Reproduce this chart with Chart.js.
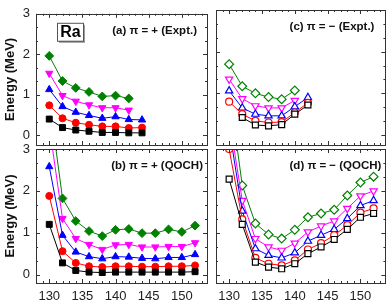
<!DOCTYPE html>
<html>
<head>
<meta charset="utf-8">
<script src="https://cdn.jsdelivr.net/npm/chart.js@4.4.1/dist/chart.umd.min.js"></script>
<style>
  body { margin: 0; background: #fff; }
  #wrap { position: relative; width: 391px; height: 307px; }
  #wrap canvas { position: absolute; left: 0; top: 0; }
</style>
</head>
<body>
<div id="wrap">
  <canvas id="pa" width="391" height="307"></canvas>
  <canvas id="pb" width="391" height="307"></canvas>
  <canvas id="pc" width="391" height="307"></canvas>
  <canvas id="pd" width="391" height="307"></canvas>
</div>
<script>
// neutron numbers
const xsExpt = [130, 132, 134, 136, 138, 140, 142, 144];
const xsQoch = [130, 132, 134, 136, 138, 140, 142, 144, 146, 148, 150, 152];
const xTicks = [130, 135, 140, 145, 150];
const yTicks = [0, 1, 2, 3];

// (a) positive parity, experiment: 2+, 4+, 6+, 8+, 10+
const a2 = [0.40, 0.19, 0.13, 0.10, 0.07, 0.07, 0.06, 0.06];
const a4 = [0.74, 0.42, 0.31, 0.26, 0.22, 0.22, 0.18, 0.19];
const a6 = [1.13, 0.71, 0.57, 0.49, 0.42, 0.46, 0.39, 0.38];
const a8 = [1.53, 0.98, 0.84, 0.75, 0.68, 0.68, 0.62];
const a10 = [1.96, 1.34, 1.17, 1.07, 0.96, 0.98, 0.91];

// (c) negative parity, experiment
const c1 = [null, 0.42, 0.24, 0.22, 0.25, 0.50, 0.72];
const c3 = [0.80, 0.50, 0.34, 0.30, 0.31, 0.54, 0.77];
const c5 = [1.06, 0.65, 0.50, 0.46, 0.46, 0.68, 0.90];
const c7 = [1.34, 0.87, 0.70, 0.65, 0.65, 0.83];
const c9 = [1.70, 1.17, 1.00, 0.91, 0.86, 1.07];

// (b) positive parity, QOCH
const b2 = [1.20, 0.28, 0.10, 0.06, 0.05, 0.06, 0.06, 0.06, 0.06, 0.06, 0.06, 0.07];
const b4 = [1.88, 0.56, 0.28, 0.20, 0.18, 0.20, 0.20, 0.19, 0.19, 0.20, 0.20, 0.22];
const b6 = [2.58, 0.94, 0.54, 0.43, 0.38, 0.43, 0.42, 0.39, 0.38, 0.41, 0.41, 0.48];
const b8 = [3.55, 1.34, 0.86, 0.72, 0.60, 0.71, 0.72, 0.66, 0.66, 0.67, 0.67, 0.76];
const b10 = [4.20, 1.82, 1.28, 1.04, 0.92, 1.07, 1.09, 0.99, 0.99, 1.08, 1.02, 1.17];

// (d) negative parity, QOCH
const d1 = [2.28, 1.20, 0.30, 0.18, 0.14, 0.26, 0.50, 0.66, 0.84, 1.08, 1.37, 1.46];
const d3 = [3.00, 1.32, 0.40, 0.26, 0.22, 0.34, 0.60, 0.75, 0.94, 1.18, 1.48, 1.58];
const d5 = [3.50, 1.52, 0.62, 0.46, 0.40, 0.52, 0.80, 0.94, 1.08, 1.34, 1.65, 1.77];
const d7 = [3.75, 1.77, 0.86, 0.66, 0.58, 0.75, 1.02, 1.16, 1.28, 1.58, 1.88, 2.00];
const d9 = [4.45, 2.13, 1.22, 0.96, 0.86, 1.07, 1.37, 1.46, 1.55, 1.89, 2.20, 2.34];

const colors = ['#000000', '#ff0000', '#0000ff', '#ff00ff', '#008000'];
const shapes = ['rect', 'circle', 'triangle', 'triangle', 'rectRot'];
const turns = [0, 0, 0, 180, 0];
const sizes = [4.2, 3.5, 4.2, 4.2, 4.4];

Chart.defaults.font.family = "'Liberation Sans', Arial, sans-serif";
Chart.defaults.color = '#222';

// frame, inward ticks, panel label, Ra box
const decor = {
  id: 'decor',
  afterDatasetsDraw(chart, args, opts) {
    const { ctx, chartArea: a, scales: { x, y } } = chart;
    ctx.save();
    ctx.strokeStyle = '#333';
    ctx.lineWidth = 1;
    ctx.beginPath();
    for (let v = Math.ceil(x.min); v <= x.max; v++) {
      const px = Math.round(x.getPixelForValue(v)) + 0.5;
      const len = v % 5 === 0 ? 4 : 2;
      ctx.moveTo(px, a.bottom); ctx.lineTo(px, a.bottom - len);
      ctx.moveTo(px, a.top); ctx.lineTo(px, a.top + len);
    }
    for (let k = 0; k <= 9; k++) {
      const py = Math.round(y.getPixelForValue(k / 3)) + 0.5;
      const len = k % 3 === 0 ? 4 : 2;
      ctx.moveTo(a.left, py); ctx.lineTo(a.left + len, py);
      ctx.moveTo(a.right, py); ctx.lineTo(a.right - len, py);
    }
    ctx.stroke();
    ctx.strokeRect(Math.round(a.left) + 0.5, Math.round(a.top) + 0.5,
      Math.round(a.right - a.left), Math.round(a.bottom - a.top));

    ctx.fillStyle = '#111';
    ctx.font = "bold 11.5px 'Liberation Sans', Arial, sans-serif";
    ctx.textAlign = 'right';
    ctx.textBaseline = 'middle';
    ctx.fillText(opts.label, a.right - opts.dx, a.top + 17);

    if (opts.ra) {
      const bx = a.left + 21, by = a.top + 9, bw = 26, bh = 18;
      ctx.fillStyle = '#9a9a9a';
      ctx.fillRect(bx + 2, by + 2, bw, bh);
      ctx.fillStyle = '#fff';
      ctx.fillRect(bx, by, bw, bh);
      ctx.strokeStyle = '#555';
      ctx.strokeRect(bx + 0.5, by + 0.5, bw, bh);
      ctx.fillStyle = '#000';
      ctx.font = "bold 16px 'Liberation Sans', Arial, sans-serif";
      ctx.textAlign = 'center';
      ctx.fillText('Ra', bx + bw / 2 + 0.5, by + bh / 2 + 1);
    }
    ctx.restore();
  }
};

function series(xs, ys, i, open) {
  return {
    data: ys.map((v, k) => ({ x: xs[k], y: v })),
    borderColor: colors[i],
    backgroundColor: open ? '#ffffff' : colors[i],
    borderWidth: 1,
    pointStyle: shapes[i],
    pointRotation: turns[i],
    pointRadius: sizes[i],
    pointBorderWidth: open ? 1.2 : 1,
    pointBorderColor: colors[i],
    pointBackgroundColor: open ? '#ffffff' : colors[i],
    tension: 0
  };
}

function panel(id, box, xs, sets, open, label, dx, ra) {
  const left = box[0] < 100, bottom = box[3] > 200;
  new Chart(document.getElementById(id), {
    type: 'line',
    data: { datasets: sets.map((ys, i) => series(xs, ys, i, open)) },
    options: {
      responsive: false,
      animation: false,
      layout: {
        padding: {
          left: left ? 0 : box[0],
          top: box[1],
          right: 391 - box[2],
          bottom: bottom ? 0 : 307 - box[3]
        }
      },
      plugins: {
        legend: { display: false },
        tooltip: { enabled: false },
        decor: { label: label, dx: dx, ra: ra }
      },
      scales: {
        x: {
          type: 'linear',
          min: 128, max: 153.8,
          display: bottom,
          grid: { display: false, drawTicks: false },
          border: { display: false },
          afterBuildTicks: s => { s.ticks = xTicks.map(v => ({ value: v })); },
          afterFit: s => { s.height = bottom ? 307 - box[3] : 0; },
          ticks: { padding: 6, font: { size: 13 }, color: '#222' }
        },
        y: {
          min: box[1] < 100 ? -0.24 : -0.2, max: 3,
          display: left,
          grid: { display: false, drawTicks: false },
          border: { display: false },
          afterBuildTicks: s => { s.ticks = yTicks.map(v => ({ value: v })); },
          afterFit: s => { s.width = left ? box[0] : 0; },
          ticks: { padding: 6, font: { size: 13 }, color: '#222' },
          title: {
            display: true, text: 'Energy (MeV)', color: '#111',
            font: { size: 13, weight: 'bold' }, padding: { top: 3, bottom: 0 }
          }
        }
      }
    },
    plugins: [decor]
  });
}

panel('pa', [36, 10, 207, 145], xsExpt, [a2, a4, a6, a8, a10], false, '(a) \u03c0 = + (Expt.)', 10, true);
panel('pc', [216, 10, 389, 145], xsExpt, [c1, c3, c5, c7, c9], true, '(c) \u03c0 = \u2212 (Expt.)', 11, false);
panel('pb', [36, 149, 207, 283], xsQoch, [b2, b4, b6, b8, b10], false, '(b) \u03c0 = + (QOCH)', 4, false);
panel('pd', [216, 149, 389, 283], xsQoch, [d1, d3, d5, d7, d9], true, '(d) \u03c0 = \u2212 (QOCH)', 4, false);
</script>
</body>
</html>
